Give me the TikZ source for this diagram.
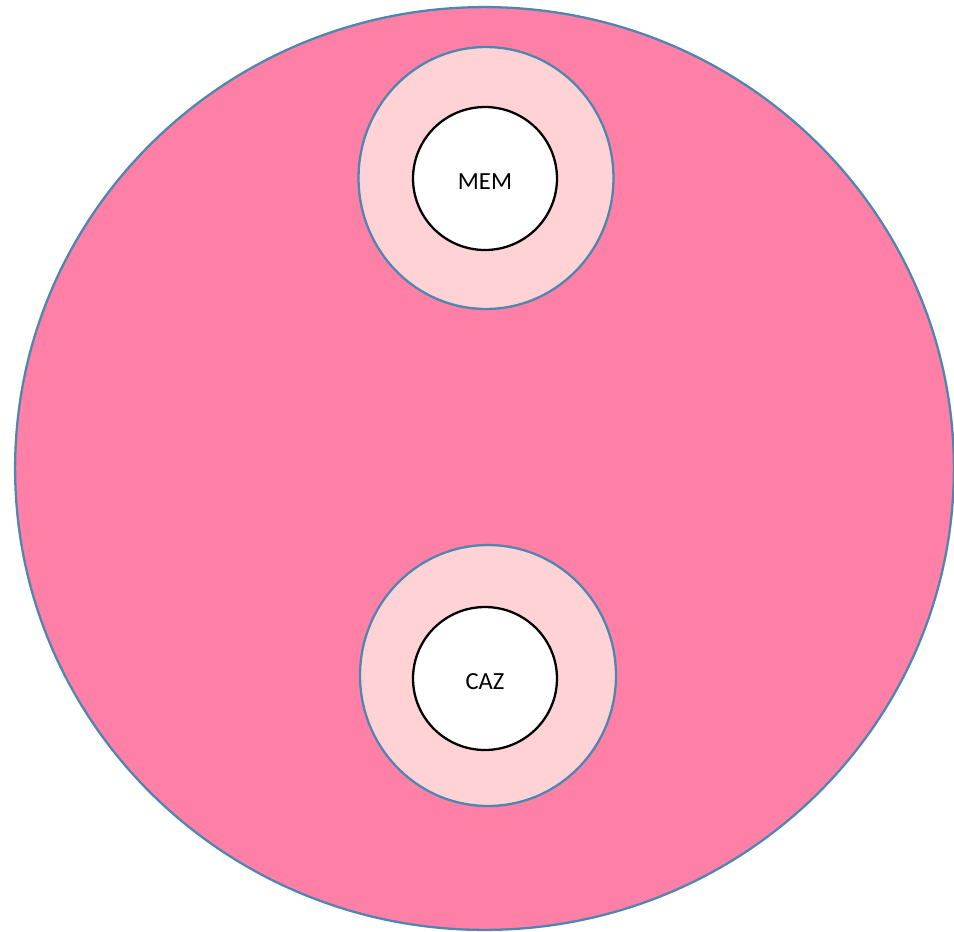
\documentclass[tikz,border=0pt]{standalone}
\usepackage{fontspec}
\setmainfont{Carlito}
\usepackage{xcolor}
\usepackage{tikz}
\usetikzlibrary{shapes.geometric,positioning}
\definecolor{cellpink}{HTML}{FF80A6}
\definecolor{ringpink}{HTML}{FFD3D5}
\definecolor{rimblue}{HTML}{4F86B0}

\tikzset{
  cellbody/.style={ellipse,draw=rimblue,fill=cellpink,line width=1.3pt,inner sep=0pt},
  ring/.style={ellipse,draw=rimblue,fill=ringpink,line width=1.3pt,inner sep=0pt},
  core/.style={ellipse,draw=black,fill=white,line width=1.3pt,inner sep=0pt,
               minimum width=2.88cm,minimum height=2.86cm,font=\fontsize{14}{16}\selectfont}
}
\newcommand{\lowtext}[1]{\raisebox{-2pt}[\height][\depth]{#1}}

\begin{document}
\begin{tikzpicture}[x=0.02cm,y=-0.02cm]
  \useasboundingbox (0,0) rectangle (954,931);
  \node[cellbody,minimum width=18.78cm,minimum height=18.46cm] (cell) at (484.5,468.5) {};
  % top
  \node[ring,minimum width=5.10cm,minimum height=5.24cm] (memring) at (486,178) {};
  \node[core] (mem) at (485,178.5) {\lowtext{MEM}};
  % bottom
  \node[ring,minimum width=5.12cm,minimum height=5.22cm] (cazring) at (488,675.5) {};
  \node[core] (caz) at (485,678.5) {\lowtext{CAZ}};
\end{tikzpicture}
\end{document}
